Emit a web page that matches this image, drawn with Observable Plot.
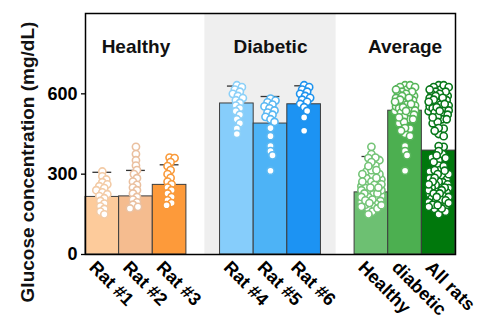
<!DOCTYPE html>
<html>
<head>
<meta charset="utf-8">
<script src="https://cdn.jsdelivr.net/npm/d3@7"></script>
<script src="https://cdn.jsdelivr.net/npm/@observablehq/plot@0.6"></script>
<style>
  html, body { margin: 0; padding: 0; background: #fff; }
</style>
</head>
<body>
<div id="chart"></div>
<script>
// Blood glucose per rat, grouped as healthy / diabetic / pooled averages
const groups = ["Healthy", "Diabetic", "Average"];
const categories = ["Rat #1", "Rat #2", "Rat #3", "Rat #4", "Rat #5", "Rat #6", "Healthy", "diabetic", "All rats"];
const categoryGroup = [0, 0, 0, 1, 1, 1, 2, 2, 2];

// bar heights (mean) and upper error caps (mean + SD), mg/dL
const meanValues = [215, 217, 260, 564, 489, 561, 232, 537, 388];
const upperValues = [307, 314, 335, 629, 590, 630, 366, 630, 630];

// individual measurements, mg/dL
const rat1 = [310, 292, 280, 270, 262, 255, 248, 240, 232, 225, 218, 210, 200, 190, 180, 170, 160, 150];
const rat2 = [402, 375, 352, 332, 315, 300, 285, 272, 260, 250, 240, 228, 215, 205, 195, 186, 178, 172];
const rat3 = [362, 360, 345, 330, 315, 300, 286, 272, 262, 250, 240, 228, 215, 202, 192, 184];
const rat4 = [632, 625, 616, 608, 600, 592, 584, 576, 566, 556, 546, 535, 522, 505, 490, 470, 450];
const rat5 = [582, 575, 568, 560, 553, 546, 538, 530, 522, 514, 505, 495, 472, 442, 405, 386, 370, 313];
const rat6 = [632, 625, 616, 608, 600, 592, 585, 578, 570, 562, 550, 536, 512, 462];
const healthyAll = [...rat1, ...rat2, ...rat3];
const diabeticAll = [...rat4, ...rat5, ...rat6];
const allRats = [...healthyAll, ...diabeticAll];
const samples = [rat1, rat2, rat3, rat4, rat5, rat6, healthyAll, diabeticAll, allRats];

const yTicks = [0, 300, 600];

const barColors = ["#FDCB9B", "#F5BC8F", "#FD9A3A", "#86CDFB", "#4DB3F6", "#1C93F3", "#6DC072", "#4CAF50", "#00780C"];
const dotColors = ["#F3CBA6", "#EAC0A0", "#F99A3A", "#8CD0F8", "#5AB8F3", "#1E93EE", "#74C477", "#57B65A", "#08781A"];

// layout
const W = 480, H = 325, ML = 85, MR = 25, MT = 13, MB = 71;
const nSlots = 11;            // three groups of three bars, one empty slot between groups
const yMax = 900;
const pxPerSlot = (W - ML - MR) / nSlots;
const pxPerUnit = (H - MT - MB) / yMax;

const slotOf = (i) => i + categoryGroup[i];

// compact swarm: stack points near the bar centre, nudging sideways when they collide
function swarmOffsets(values, maxOff, minDist) {
  const placed = [];
  const offsets = new Array(values.length).fill(0);
  const order = d3.range(values.length).sort((a, b) => values[b] - values[a]);
  const cands = [0];
  for (let k = 1; k <= maxOff; k++) cands.push(k, -k);
  for (const i of order) {
    const y = values[i] * pxPerUnit;
    let best = 0, bestD = -1;
    for (const c of cands) {
      let d = Infinity;
      for (const p of placed) d = Math.min(d, Math.hypot(c - p.x, y - p.y));
      if (d >= minDist) { best = c; bestD = d; break; }
      if (d > bestD) { bestD = d; best = c; }
    }
    placed.push({x: best, y});
    offsets[i] = best;
  }
  return offsets;
}

const bars = categories.map((name, i) => ({
  name, slot: slotOf(i), mean: meanValues[i], upper: upperValues[i],
  fill: barColors[i]
}));

const points = [];
samples.forEach((vals, i) => {
  const offs = swarmOffsets(vals, i >= 6 ? 10 : 8, 4.6);
  vals.forEach((v, j) => points.push({
    x: slotOf(i) + 0.5 + offs[j] / pxPerSlot, value: v, stroke: dotColors[i]
  }));
});

const tickPositions = categories.map((_, i) => slotOf(i) + 0.5);
const tickLabel = new Map(categories.map((c, i) => [tickPositions[i], c]));
const groupCenters = groups.map((_, g) => g * 4 + 1.5);

const font = "'Liberation Sans', Arial, Helvetica, sans-serif";

const chart = Plot.plot({
  width: W,
  height: H,
  marginLeft: ML,
  marginRight: MR,
  marginTop: MT,
  marginBottom: MB,
  style: {fontFamily: font, color: "#000", background: "#fff", overflow: "visible"},
  x: {type: "linear", domain: [0, nSlots]},
  y: {domain: [0, yMax]},
  color: {type: "identity"},
  marks: [
    // shaded band behind the diabetic group
    Plot.rect([groups[1]], {x1: () => 3 + 0.55, x2: () => 7 + 0.45, fill: "#EFEFEF"}),
    Plot.rectY(bars, {x1: "slot", x2: (d) => d.slot + 1, y: "mean", fill: "fill", stroke: "#3d3d3d", strokeWidth: 1}),
    Plot.ruleY(bars, {y: "upper", x1: (d) => d.slot + 0.22, x2: (d) => d.slot + 0.78, stroke: "#333", strokeWidth: 1.3}),
    Plot.dot(points, {x: "x", y: "value", r: 3.6, fill: "white", stroke: "stroke", strokeWidth: 1.6}),
    Plot.frame({stroke: "#000", strokeWidth: 1.5}),
    Plot.axisY(yTicks, {tickSize: 4, tickPadding: 4, fontSize: 18, fontWeight: "bold", label: null, stroke: "#000", strokeWidth: 1.3}),
    Plot.axisX(tickPositions, {
      tickFormat: (d) => tickLabel.get(d), tickRotate: 45, tickSize: 0, tickPadding: 10, dx: -10,
      fontSize: 18, fontWeight: "bold", label: null
    }),
    Plot.text(groups, {x: (d, i) => groupCenters[i], text: (d) => d, frameAnchor: "top", dy: 26,
      fontSize: 19, fontWeight: "bold", fill: "#111"}),
    Plot.text(["Glucose concentration (mg/dL)"], {frameAnchor: "left", textAnchor: "middle", rotate: -90,
      dx: -58, dy: 28, fontSize: 19, fontWeight: "bold", fill: "#111"})
  ]
});

document.getElementById("chart").appendChild(chart);
</script>
</body>
</html>
